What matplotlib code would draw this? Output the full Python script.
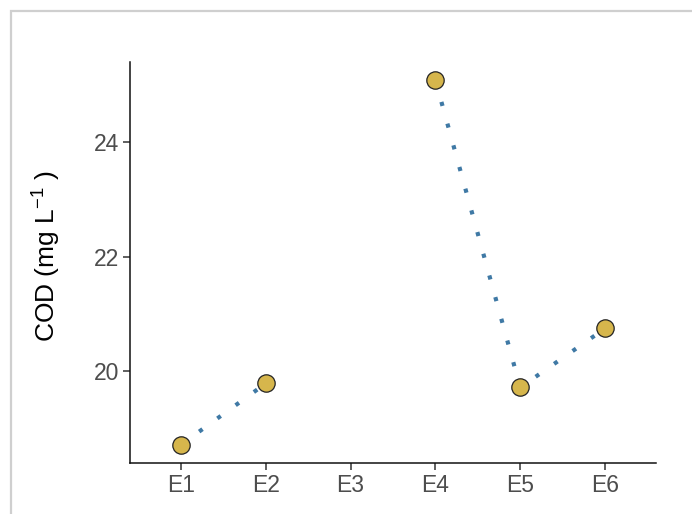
import numpy as np
import matplotlib
matplotlib.use("Agg")
import matplotlib.pyplot as plt
from matplotlib.patches import Rectangle

categories = ["E1", "E2", "E3", "E4", "E5", "E6"]
cod_values = [18.72, 19.79, np.nan, 25.08, 19.72, 20.75]
y_ticks = [20, 22, 24]

plt.rcParams['font.family'] = ['Liberation Sans', 'DejaVu Sans']
plt.rcParams['mathtext.fontset'] = 'custom'
plt.rcParams['mathtext.rm'] = 'Liberation Sans'
plt.rcParams['mathtext.it'] = 'Liberation Sans'

W, H = 692, 514
fig = plt.figure(figsize=(W / 100, H / 100), dpi=100)
fig.patch.set_facecolor('white')

# light gray outer frame (only top and left visible)
fig.add_artist(Rectangle((10.5 / W, -0.1), 2.0, 1.1 - 11 / H, transform=fig.transFigure,
                         fill=False, edgecolor='#cfcfcf', linewidth=1.6))

ax = fig.add_axes([130 / W, 1 - 463 / H, (656 - 130) / W, (463 - 62) / H])
x = np.arange(1, len(categories) + 1)
vals = np.array(cod_values, dtype=float)

ax.plot(x, vals, linestyle=(0, (1.0, 4.4)), color='#3f79a5', linewidth=3.0,
        dash_capstyle='butt', zorder=2)
ax.plot(x, vals, linestyle='none', marker='o', markersize=12.5,
        markerfacecolor='#d6b64c', markeredgecolor='#222222', markeredgewidth=0.9, zorder=3)

ax.set_xlim(0.4, 6.6)
valid = vals[~np.isnan(vals)]
rng = valid.max() - valid.min()
ax.set_ylim(valid.min() - 0.05 * rng, valid.max() + 0.05 * rng)
ax.set_xticks(x)
ax.set_xticklabels(categories)
ax.set_yticks(y_ticks)

for s in ['top', 'right']:
    ax.spines[s].set_visible(False)
for s in ['left', 'bottom']:
    ax.spines[s].set_linewidth(1.1)
    ax.spines[s].set_color('#111111')

ax.tick_params(axis='both', which='major', length=5, width=1.1, color='#333333',
               labelsize=16.5, labelcolor='#4d4d4d', pad=3)
ax.set_ylabel(r'COD (mg L$^{-1}$ )', fontsize=19, color='black')
ax.yaxis.set_label_coords(-0.128, 0.515)

fig.savefig('out.png', dpi=100, facecolor='white')
